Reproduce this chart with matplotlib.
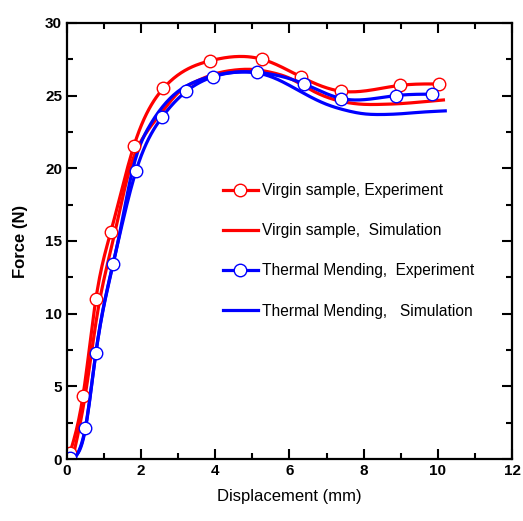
import numpy as np
import matplotlib
matplotlib.use("Agg")
import matplotlib.pyplot as plt

plt.rcParams['font.family'] = ['Liberation Sans', 'DejaVu Sans']

# Virgin sample - experiment
x_virgin_exp = [0.08, 0.43, 0.78, 1.18, 1.80, 2.60, 3.87, 5.26, 6.30, 7.40, 8.97, 10.04]
f_virgin_exp = [0.4, 4.3, 11.0, 15.6, 21.5, 25.5, 27.4, 27.5, 26.3, 25.3, 25.7, 25.8]

# Thermal mending - experiment
x_mend_exp = [0.08, 0.50, 0.78, 1.24, 1.86, 2.56, 3.22, 3.95, 5.13, 6.40, 7.40, 8.86, 9.85]
f_mend_exp = [0.1, 2.1, 7.3, 13.4, 19.8, 23.5, 25.3, 26.3, 26.6, 25.8, 24.8, 25.0, 25.1]

# Virgin sample - simulation
x_virgin_sim = [0.15, 0.5, 0.82, 1.24, 1.7, 2.1, 2.6, 3.0, 3.5, 4.0, 4.5, 5.0, 5.5,
                6.0, 6.5, 7.0, 7.5, 8.0, 8.5, 9.0, 9.5, 10.15]
f_virgin_sim = [0.0, 4.5, 10.0, 15.0, 20.0, 22.3, 24.0, 25.2, 26.0, 26.5, 26.75, 26.8, 26.6,
                26.2, 25.5, 24.9, 24.55, 24.4, 24.4, 24.45, 24.55, 24.7]

# Thermal mending - simulation
x_mend_sim = [0.2, 0.5, 0.78, 1.2, 1.38, 1.78, 2.2, 2.6, 3.0, 3.5, 4.0, 4.5, 5.0, 5.5,
              6.0, 6.5, 7.0, 7.5, 8.0, 8.5, 9.0, 9.5, 10.2]
f_mend_sim = [0.0, 2.2, 7.3, 12.9, 15.0, 20.0, 22.8, 24.3, 25.3, 26.0, 26.4, 26.6, 26.6, 26.3,
              25.7, 25.0, 24.4, 24.0, 23.75, 23.7, 23.75, 23.85, 23.95]


def spline(x, y, n=300):
    # natural cubic spline, just for drawing smooth connecting lines
    x = np.asarray(x, float)
    y = np.asarray(y, float)
    k = len(x)
    h = np.diff(x)
    A = np.zeros((k, k))
    b = np.zeros(k)
    A[0, 0] = A[-1, -1] = 1
    for i in range(1, k - 1):
        A[i, i - 1] = h[i - 1]
        A[i, i] = 2 * (h[i - 1] + h[i])
        A[i, i + 1] = h[i]
        b[i] = 3 * ((y[i + 1] - y[i]) / h[i] - (y[i] - y[i - 1]) / h[i - 1])
    c = np.linalg.solve(A, b)
    xs = np.linspace(x[0], x[-1], n)
    idx = np.clip(np.searchsorted(x, xs) - 1, 0, k - 2)
    dx = xs - x[idx]
    bb = (y[idx + 1] - y[idx]) / h[idx] - h[idx] * (2 * c[idx] + c[idx + 1]) / 3
    dd = (c[idx + 1] - c[idx]) / (3 * h[idx])
    ys = y[idx] + bb * dx + c[idx] * dx ** 2 + dd * dx ** 3
    return xs, ys


red = '#ff0000'
blue = '#0000ff'
lw = 2.3

fig = plt.figure(figsize=(5.23, 5.21), dpi=100)
ax = fig.add_axes([0.128, 0.119, 0.851, 0.837])

xs, ys = spline(x_virgin_sim, f_virgin_sim)
ax.plot(xs, ys, color=red, lw=lw)
xs, ys = spline(x_mend_sim, f_mend_sim)
ax.plot(xs, ys, color=blue, lw=lw)

xs, ys = spline(x_virgin_exp, f_virgin_exp)
ax.plot(xs, ys, color=red, lw=lw)
ax.plot(x_virgin_exp, f_virgin_exp, 'o', ms=9, mfc='white', mec=red, mew=1.0)
xs, ys = spline(x_mend_exp, f_mend_exp)
ax.plot(xs, ys, color=blue, lw=lw)
ax.plot(x_mend_exp, f_mend_exp, 'o', ms=9, mfc='white', mec=blue, mew=1.0)

# legend handles
h1, = ax.plot([], [], '-o', color=red, lw=lw, ms=9, mfc='white', mec=red, mew=1.0)
h2, = ax.plot([], [], '-', color=red, lw=lw)
h3, = ax.plot([], [], '-o', color=blue, lw=lw, ms=9, mfc='white', mec=blue, mew=1.0)
h4, = ax.plot([], [], '-', color=blue, lw=lw)
ax.legend([h1, h2, h3, h4],
          ['Virgin sample, Experiment', 'Virgin sample,  Simulation',
           'Thermal Mending,  Experiment', 'Thermal Mending,   Simulation'],
          loc='upper left', bbox_to_anchor=(0.32, 0.665), frameon=False,
          fontsize=11.2, handlelength=2.2, labelspacing=1.62, handletextpad=0.3)

ax.set_xlim(0, 12)
ax.set_ylim(0, 30)
ax.set_xticks(np.arange(0, 13, 2))
ax.set_xticks(np.arange(1, 12, 2), minor=True)
ax.set_yticks(np.arange(0, 31, 5))
ax.set_yticks(np.arange(2.5, 30, 5), minor=True)
ax.tick_params(which='both', direction='in', top=True, right=True, width=1.5,
               labelsize=11)
ax.tick_params(which='major', length=7)
ax.tick_params(which='minor', length=4)
for lab in ax.get_xticklabels() + ax.get_yticklabels():
    lab.set_fontweight('bold')
for s in ax.spines.values():
    s.set_linewidth(1.6)

ax.set_xlabel('Displacement (mm)', fontsize=12, labelpad=8)
ax.set_ylabel('Force (N)', fontsize=12, fontweight='bold', labelpad=12)

fig.savefig('out.png', dpi=100)
